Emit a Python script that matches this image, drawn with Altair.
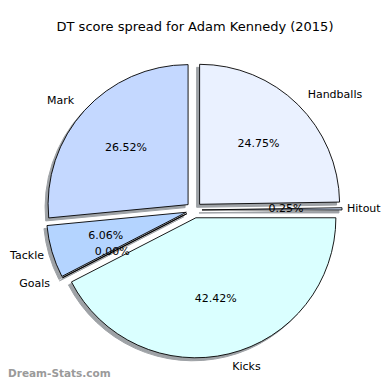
import altair as alt
import pandas as pd

categories = ["Handballs", "Hitout", "Kicks", "Goals", "Tackle", "Mark"]
points = [98, 1, 168, 0, 24, 105]
colors = ["#EAF1FF", "#D6E6FF", "#DAFFFF", "#C8EEFF", "#B4D4FF", "#C4D8FF"]
title_text = "DT score spread for Adam Kennedy (2015)"
watermark = ["Dream-Stats.com"]

# layout (pixels inside the plot area)
CX, CY, R, D = 186, 162, 140, 8
MIN_RIGHT_EDGE = 36   # keeps right-aligned labels inside the canvas
MAX_LEFT_EDGE = 339   # keeps left-aligned labels inside the canvas
FONT = "DejaVu Sans"

df = pd.DataFrame({"category": categories, "value": points, "order": list(range(len(categories)))})

base = (
    alt.Chart(df)
    .transform_window(cum="sum(value)", sort=[alt.SortField("order")], frame=[None, 0])
    .transform_joinaggregate(total="sum(value)")
    .transform_calculate(a0="2*PI*(datum.cum - datum.value)/datum.total")
    .transform_calculate(a1="2*PI*datum.cum/datum.total")
    .transform_calculate(mid="(datum.a0 + datum.a1)/2")
    .transform_calculate(cx=f"{CX} + {D}*sin(datum.mid)")
    .transform_calculate(cy=f"{CY} - {D}*cos(datum.mid)")
    .transform_calculate(lx=f"datum.cx + {1.1*R}*sin(datum.mid)")
    .transform_calculate(ly=f"datum.cy - {1.1*R}*cos(datum.mid)")
    .transform_calculate(px=f"datum.cx + {0.6*R}*sin(datum.mid)")
    .transform_calculate(py=f"datum.cy - {0.6*R}*cos(datum.mid)")
    .transform_calculate(pct="format(100*datum.value/datum.total, '.2f') + '%'")
    .transform_calculate(side="sin(datum.mid) > 0 ? 'right' : 'left'")
    .transform_calculate(lxl=f"max(datum.lx, {MIN_RIGHT_EDGE})")
    .transform_calculate(lxr=f"min(datum.lx, {MAX_LEFT_EDGE})")
)

pos = dict(
    x=alt.X("cx:Q", scale=None, axis=None),
    y=alt.Y("cy:Q", scale=None, axis=None),
    theta=alt.Theta("a0:Q", scale=None),
    theta2="a1:Q",
)

shadow = base.mark_arc(outerRadius=R, xOffset=-3, yOffset=3, fill="#9ea2a6",
                       stroke="#9ea2a6", strokeWidth=1).encode(**pos)

arcs = base.mark_arc(outerRadius=R, stroke="black", strokeWidth=0.9).encode(
    **pos,
    color=alt.Color("category:N", scale=alt.Scale(domain=categories, range=colors), legend=None),
)

lab_right = base.transform_filter("datum.side == 'right'").mark_text(
    align="left", baseline="middle", font=FONT, fontSize=11, color="black"
).encode(x=alt.X("lxr:Q", scale=None, axis=None), y=alt.Y("ly:Q", scale=None, axis=None), text="category:N")

lab_left = base.transform_filter("datum.side == 'left'").mark_text(
    align="right", baseline="middle", font=FONT, fontSize=11, color="black"
).encode(x=alt.X("lxl:Q", scale=None, axis=None), y=alt.Y("ly:Q", scale=None, axis=None), text="category:N")

pcts = base.mark_text(align="center", baseline="middle", font=FONT, fontSize=11, color="black").encode(
    x=alt.X("px:Q", scale=None, axis=None), y=alt.Y("py:Q", scale=None, axis=None), text="pct:N"
)

wm = alt.Chart(pd.DataFrame({"t": watermark})).mark_text(
    align="left", baseline="middle", font=FONT, fontSize=10.5, fontWeight="bold", color="#9a9a9a"
).encode(x=alt.value(0), y=alt.value(326), text="t:N")

chart = (
    alt.layer(shadow, arcs, pcts, lab_right, lab_left, wm)
    .properties(
        width=374,
        height=334,
        padding={"left": 0, "top": 40, "right": 0, "bottom": 0},
        autosize=alt.AutoSizeParams(type="none"),
        title=alt.TitleParams(title_text, font=FONT, fontSize=13, fontWeight="normal",
                              color="black", anchor="middle", offset=14),
    )
    .configure_view(stroke=None)
)

chart.save("out.html", embed_options={"renderer": "svg", "actions": False})
